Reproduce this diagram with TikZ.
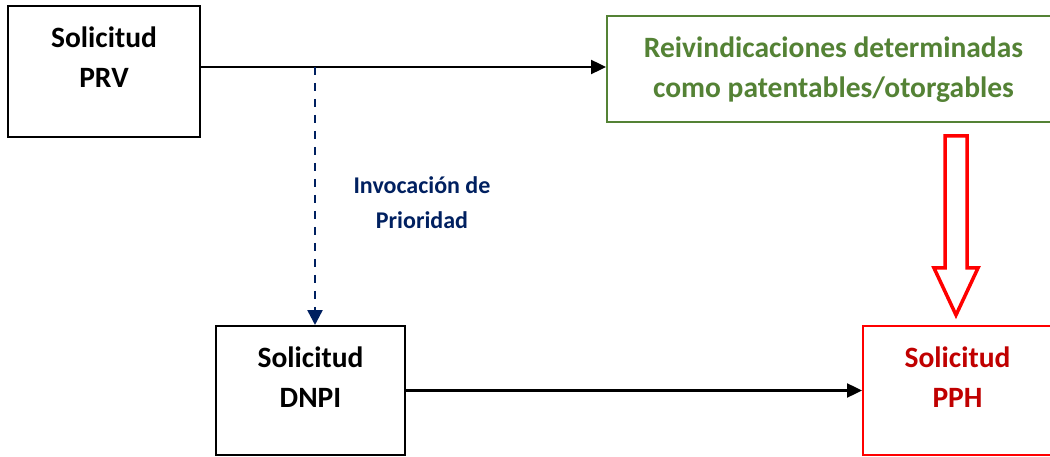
\documentclass[tikz,border=0pt]{standalone}
\usepackage{fontspec}
\setmainfont{Carlito}
\usetikzlibrary{arrows.meta}
\definecolor{grn}{HTML}{548235}
\definecolor{navy}{HTML}{002060}
\definecolor{rd}{HTML}{FF0000}
\definecolor{drd}{HTML}{C00000}
\tikzset{
  boxshape/.style={draw, line width=2pt, inner sep=0pt, fill=none},
  boxtext/.style={inner sep=0pt, align=center, font=\bfseries\fontsize{29.5}{40}\selectfont},
  conn/.style={line width=2.4pt, -{Triangle[length=15pt,width=14pt]}},
  prio/.style={navy, line width=2.5pt, dash pattern=on 8pt off 8pt, -{Triangle[length=15pt,width=15pt]}},
  blockarrow/.style={draw=rd, line width=3.5pt, fill=white, line join=miter},
}
\begin{document}
\begin{tikzpicture}[x=1pt,y=-1pt]
\useasboundingbox (0,0) rectangle (1050,457);
\clip (0,0) rectangle (1050,457);
\fill[white] (0,0) rectangle (1050,457);
% boxes
\node[boxshape, minimum width=192pt, minimum height=131pt] (prv) at (104,71.5) {};
\node[boxshape, draw=grn, minimum width=453pt, minimum height=106pt] (green) at (833.5,69) {};
\node[boxshape, minimum width=189pt, minimum height=129pt] (dnpi) at (310.5,390.5) {};
\node[boxshape, draw=rd, minimum width=189pt, minimum height=129pt] (pph) at (957.5,390.5) {};
% texts
\node[boxtext] (prvt) at (104,57) {Solicitud\\PRV};
\node[boxtext, text=grn] (greent) at (833.5,69.5) {Reivindicaciones determinadas\\como patentables/otorgables};
\node[boxtext] (dnpit) at (310.5,377) {Solicitud\\DNPI};
\node[boxtext, text=drd] (ppht) at (957.5,377) {Solicitud\\PPH};
\node[inner sep=0pt, align=center, text=navy, font=\bfseries\fontsize{24}{35}\selectfont] (inv) at (422,202.5) {Invocación de\\Prioridad};
% connectors
\coordinate (split) at (315,67);
\draw[conn] ([yshift=4.5pt]prv.east) -- ([yshift=4.5pt]prv.east -| green.west);
\draw[prio] (split) -- (split |- dnpi.north);
\draw[conn] (dnpi.east) -- (pph.west);
% block arrow
\coordinate (ba) at (956,136);
\path[blockarrow] ([xshift=-11pt]ba) -- ([xshift=11pt]ba) -- ([xshift=11pt,yshift=-132pt]ba) -- ([xshift=22pt,yshift=-132pt]ba) -- ([yshift=-179pt]ba) -- ([xshift=-22pt,yshift=-132pt]ba) -- ([xshift=-11pt,yshift=-132pt]ba) -- cycle;
\end{tikzpicture}
\end{document}
